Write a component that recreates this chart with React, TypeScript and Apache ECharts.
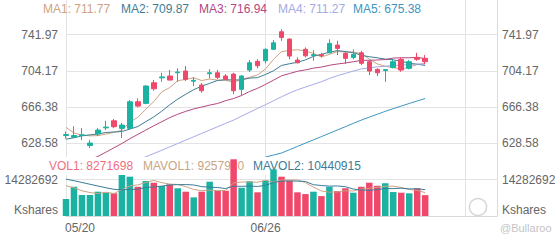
import React, { useEffect, useRef } from 'react';
import * as echarts from 'echarts';

// ---------- data ----------
const categories = [
  '05/20', '05/21', '05/22', '05/23', '05/24', '05/28', '05/29', '05/30', '05/31', '06/03',
  '06/04', '06/05', '06/06', '06/07', '06/10', '06/11', '06/12', '06/13', '06/14', '06/17',
  '06/18', '06/20', '06/21', '06/24', '06/25', '06/26', '06/27', '06/28', '07/01', '07/02',
  '07/03', '07/05', '07/08', '07/09', '07/10', '07/11', '07/12', '07/15', '07/16', '07/17',
  '07/18', '07/19', '07/22', '07/23', '07/24', '07/25',
  '07/26', '07/29', '07/30', '07/31', '08/01', '08/02', '08/05', '08/06', '08/07',
];
const dateLabels = ['05/20', '06/26'];

const opens = [
  636.8, 635.0, 636.8, 626.4, 638.4, 644.8, 652.2, 644.3, 644.3, 672.0,
  670.3, 691.8, 696.9, 698.8, 702.2, 704.0, 693.4, 689.4, 701.2, 702.2,
  698.8, 700.8, 684.9, 705.0, 714.1, 714.7, 726.6, 744.9, 737.3, 715.4,
  726.6, 720.1, 721.1, 723.0, 731.0, 722.4, 718.2, 723.0, 713.7, 705.7,
  704.5, 707.8, 716.2, 706.8, 718.2, 717.2,
];
const closes = [
  637.8, 636.8, 637.5, 629.0, 642.5, 645.6, 646.0, 647.7, 672.0, 667.5,
  688.4, 685.5, 697.9, 694.6, 703.0, 695.3, 694.3, 683.5, 702.2, 697.4,
  695.3, 683.5, 698.8, 712.6, 709.5, 726.6, 733.4, 739.0, 719.6, 712.6,
  719.9, 721.1, 720.1, 732.8, 727.6, 717.2, 721.4, 712.0, 704.0, 702.2,
  705.5, 713.7, 705.0, 713.7, 716.2, 713.7,
];
const lows = [
  633.5, 634.0, 632.1, 623.8, 636.3, 642.5, 644.6, 634.2, 643.5, 666.2,
  669.5, 683.5, 692.8, 694.1, 692.8, 693.6, 688.4, 681.4, 696.4, 695.6,
  694.6, 680.0, 679.0, 702.9, 706.8, 712.0, 725.8, 735.5, 716.2, 712.0,
  718.2, 714.7, 718.2, 722.4, 720.6, 711.3, 716.2, 710.2, 699.8, 698.8,
  692.8, 706.8, 703.2, 705.7, 714.7, 711.3,
];
const highs = [
  641.0, 646.5, 644.6, 632.1, 644.6, 652.2, 654.0, 650.0, 673.8, 675.5,
  689.4, 694.6, 702.2, 705.0, 706.8, 709.2, 697.7, 691.5, 706.0, 705.0,
  700.8, 702.2, 699.8, 715.4, 716.2, 727.6, 736.2, 747.4, 738.0, 718.2,
  728.6, 725.8, 723.0, 737.0, 735.5, 724.1, 726.6, 725.1, 715.4, 706.8,
  706.0, 716.2, 718.2, 715.4, 723.0, 720.6,
];

const ma1 = [
  645.4, 639.4, 637.3, 636.5, 636.7, 638.3, 640.1, 642.2, 650.8, 655.8,
  664.3, 672.2, 682.3, 686.8, 693.9, 695.3, 697.0, 694.1, 695.7, 694.5,
  694.5, 692.4, 695.4, 697.5, 699.9, 706.2, 716.2, 724.2, 725.6, 726.2,
  724.9, 722.4, 718.7, 721.3, 724.3, 723.8, 723.8, 722.2, 716.4, 711.4,
  709.0, 707.5, 706.1, 708.0, 710.8, 711.77,
];
const ma2 = [
  633.0, 634.5, 636.5, 637.5, 638.5, 640.0, 640.5, 641.0, 643.5, 646.2,
  651.3, 656.2, 662.2, 668.8, 674.8, 679.8, 684.6, 688.2, 691.2, 694.2,
  694.9, 694.7, 694.8, 696.6, 697.2, 700.4, 704.3, 709.8, 711.6, 713.1,
  715.6, 719.3, 721.4, 723.5, 725.3, 724.3, 723.1, 720.4, 718.9, 717.8,
  716.4, 715.7, 714.1, 712.2, 711.1, 709.87,
];
const ma3 = [
  null, null, 609.0, 612.0, 615.0, 619.5, 624.0, 628.5, 633.5, 638.0,
  642.5, 647.0, 651.2, 655.5, 659.0, 662.0, 664.5, 666.5, 668.5, 670.2,
  673.1, 675.4, 678.5, 682.7, 686.0, 690.1, 694.5, 699.0, 701.4, 703.7,
  705.2, 707.0, 708.1, 710.0, 711.3, 712.4, 713.7, 715.1, 715.2, 715.5,
  716.0, 717.5, 717.8, 717.8, 718.2, 716.94,
];
const ma4 = [
  null, null, null, null, null, null, null, null, 607.5, 611.0,
  614.7, 618.0, 621.5, 625.0, 628.5, 632.0, 635.5, 639.0, 642.5, 646.0,
  649.5, 652.9, 657.0, 661.0, 665.0, 669.0, 673.0, 677.2, 681.0, 684.5,
  687.3, 690.1, 692.8, 696.3, 699.1, 701.5, 704.0, 706.2, 707.2, 708.4,
  709.0, 709.9, 710.1, 710.8, 711.2, 711.27,
];
const ma5 = [
  null, null, null, null, null, null, null, null, null, null,
  null, null, null, null, null, null, null, null, null, null,
  null, null, null, 608.0, 611.0, 614.4, 616.5, 618.6, 622.0, 625.5,
  628.9, 632.3, 635.7, 639.1, 642.6, 646.0, 649.5, 652.9, 656.0, 659.0,
  662.0, 664.8, 667.5, 670.2, 672.8, 675.38,
];

const volumes = [
  6740000, 11600000, 8330000, 8330000, 9640000, 9240000, 9000000, 16270000, 15600000, 11600000,
  13900000, 13200000, 11900000, 12600000, 11000000, 9640000, 7400000, 9640000, 13600000, 10000000,
  10000000, 22500000, 11200000, 13800000, 9400000, 14000000, 18500000, 15600000, 14000000, 9400000,
  8700000, 9640000, 7900000, 11600000, 9900000, 11000000, 9240000, 11600000, 13200000, 12000000,
  13000000, 9500000, 9240000, 9000000, 11000000, 8271698,
];
const mavol1 = [
  12000000, 11200000, 10000000, 9300000, 8930000, 9430000, 8910000, 10500000, 11950000, 12340000,
  13270000, 14110000, 13240000, 12640000, 12520000, 11670000, 10510000, 10060000, 10260000, 10060000,
  10130000, 13150000, 13460000, 13500000, 13380000, 14180000, 13380000, 14260000, 14300000, 14300000,
  13240000, 11470000, 9930000, 9450000, 9550000, 10010000, 9930000, 10670000, 10990000, 11410000,
  11810000, 11820000, 11350000, 10510000, 10210000, 9257920,
];
const mavol2 = [
  14600000, 14000000, 13300000, 12600000, 11900000, 11200000, 10600000, 10400000, 10500000, 10640000,
  11350000, 11510000, 11870000, 12300000, 12430000, 12470000, 12310000, 11650000, 11450000, 11290000,
  10900000, 11830000, 11760000, 11880000, 11720000, 12150000, 13260000, 13860000, 13900000, 13840000,
  13710000, 12420000, 12090000, 11870000, 11920000, 11620000, 10700000, 10300000, 10220000, 10480000,
  10910000, 10870000, 11010000, 10750000, 10810000, 10440915,
];

const maNames = ['MA1', 'MA2', 'MA3', 'MA4', 'MA5'];
const maLast = ['711.77', '709.87', '716.94', '711.27', '675.38'];
const volNames = ['VOL1', 'MAVOL1', 'MAVOL2'];
const volLast = ['8271698', '9257920', '10440915'];

const priceTickLabels = ['741.97', '704.17', '666.38', '628.58'];
const volumeTickLabels = ['14282692'];
const volumeUnit = 'Kshares';

// ---------- styling ----------
const FONT = 'Liberation Sans';
const UP = '#1bb2a2';
const DOWN = '#f0486a';
const GRID = '#e3e3e3';
const LABEL = '#666666';
const maColors = ['#cfa282', '#3f7c93', '#b3477e', '#a5aae6', '#3d95bf'];
const volColors = ['#f0707f', '#c9a585', '#3d7b99'];

function buildOption(): any {
  const candleData = opens.map((o, i) => [o, closes[i], lows[i], highs[i]]);
  const volData = volumes.map((v, i) => ({
    value: v,
    itemStyle: { color: closes[i] >= opens[i] ? UP : DOWN },
  }));

  const priceFmt = (v: number) => {
    const hit = priceTickLabels.find((s) => Math.abs(parseFloat(s) - v) < 0.05);
    return hit ?? '';
  };
  const volFmt = (v: number) => {
    if (v === 0) return '{u|' + volumeUnit + '}';
    const hit = volumeTickLabels.find((s) => Math.abs(parseFloat(s) - v) < 1);
    return hit ?? '';
  };
  const splitAt = (i: number) => i % 25 === 0;

  const labelBase = { color: LABEL, fontSize: 12, fontFamily: FONT };
  const volRich = { u: { ...labelBase, padding: [0, 0, 12, 0] } };

  const priceLegendX = [43, 121, 199, 278, 353];
  const volLegendX = [49, 143, 253];

  const graphics: any[] = [];
  maNames.forEach((n, i) => {
    graphics.push({
      type: 'text',
      x: priceLegendX[i],
      y: 9,
      z: 3,
      style: {
        text: n + ': ' + maLast[i],
        fill: maColors[i],
        font: '12px "' + FONT + '"',
        textVerticalAlign: 'middle',
        verticalAlign: 'middle',
      },
    });
  });
  volNames.forEach((n, i) => {
    graphics.push({
      type: 'text',
      x: volLegendX[i] - 5,
      y: 166,
      z: 3,
      style: {
        text: n + ': ' + volLast[i],
        fill: volColors[i],
        font: '12px "' + FONT + '"',
        textVerticalAlign: 'middle',
        verticalAlign: 'middle',
        backgroundColor: '#ffffff',
        padding: [3, 5, 3, 5],
      },
    });
  });
  graphics.push({
    type: 'circle',
    z: 1,
    shape: { cx: 478, cy: 207, r: 8.5 },
    style: { fill: 'none', stroke: '#d6d6d6', lineWidth: 1.5 },
  });
  graphics.push({
    type: 'text',
    x: 500,
    y: 228,
    z: 1,
    style: {
      text: '@Bullaroo',
      fill: '#c4c4c4',
      font: '11px "' + FONT + '"',
      textVerticalAlign: 'middle',
      verticalAlign: 'middle',
    },
  });

  const maSeries = [ma1, ma2, ma3, ma4, ma5].map((d, i) => ({
    name: maNames[i],
    type: 'line',
    xAxisIndex: 0,
    yAxisIndex: 0,
    data: d,
    symbol: 'none',
    z: 2,
    lineStyle: { width: 1, color: maColors[i] },
    connectNulls: false,
  }));

  return {
    animation: false,
    backgroundColor: '#ffffff',
    textStyle: { fontFamily: FONT },
    grid: [
      { left: 66, right: 63, top: 0, bottom: 24 },
      { left: 66, right: 63, top: 144, bottom: 24 },
    ],
    xAxis: [
      {
        type: 'category',
        gridIndex: 0,
        data: categories,
        boundaryGap: false,
        axisLine: { show: false },
        axisTick: { show: false },
        axisLabel: { show: false },
        splitLine: { show: true, interval: splitAt, lineStyle: { color: GRID, width: 1 } },
      },
      {
        type: 'category',
        gridIndex: 1,
        data: categories,
        boundaryGap: false,
        axisLine: { show: true, lineStyle: { color: '#d9d9d9' } },
        axisTick: { show: false },
        splitLine: { show: false },
        axisLabel: {
          ...labelBase,
          margin: 6,
          interval: (i: number) => dateLabels.includes(categories[i]) && i < 46,
          formatter: (v: string, i: number) => (i === 0 ? '{l|' + v + '}' : '{n|' + v + '}'),
          rich: {
            l: { ...labelBase, padding: [0, 0, 0, 28] },
            n: { ...labelBase },
          },
        },
      },
    ],
    yAxis: [
      {
        type: 'value',
        gridIndex: 0,
        position: 'left',
        min: 552.99,
        max: 778,
        interval: 37.796,
        axisLine: { show: false },
        axisTick: { show: false },
        splitLine: { show: true, showMaxLine: false, lineStyle: { color: GRID, width: 1 } },
        axisLabel: { ...labelBase, margin: 8, formatter: priceFmt, showMaxLabel: false },
      },
      {
        type: 'value',
        gridIndex: 0,
        position: 'right',
        min: 552.99,
        max: 778,
        interval: 37.796,
        axisLine: { show: true, lineStyle: { color: '#dcdcdc' } },
        axisTick: { show: false },
        splitLine: { show: false },
        axisLabel: { ...labelBase, margin: 5, formatter: priceFmt, showMaxLabel: false },
      },
      {
        type: 'value',
        gridIndex: 1,
        position: 'left',
        min: 0,
        max: 28565384,
        interval: 14282692,
        axisLine: { show: false },
        axisTick: { show: false },
        splitLine: { show: false },
        axisLabel: { ...labelBase, margin: 8, formatter: volFmt, rich: volRich },
      },
      {
        type: 'value',
        gridIndex: 1,
        position: 'right',
        min: 0,
        max: 28565384,
        interval: 14282692,
        axisLine: { show: false },
        axisTick: { show: false },
        splitLine: { show: false },
        axisLabel: { ...labelBase, margin: 5, formatter: volFmt, rich: volRich },
      },
    ],
    graphic: graphics,
    series: [
      {
        name: 'K',
        type: 'candlestick',
        xAxisIndex: 0,
        yAxisIndex: 0,
        data: candleData,
        barWidth: 5,
        clip: false,
        z: 2,
        itemStyle: {
          color: UP,
          color0: DOWN,
          borderColor: UP,
          borderColor0: DOWN,
          borderWidth: 1,
        },
      },
      ...maSeries,
      {
        name: 'VOL',
        type: 'bar',
        xAxisIndex: 1,
        yAxisIndex: 2,
        data: volData,
        barWidth: 6.5,
        clip: false,
        z: 4,
      },
      {
        name: 'MAVOL1',
        type: 'line',
        xAxisIndex: 1,
        yAxisIndex: 2,
        data: mavol1,
        symbol: 'none',
        z: 5,
        lineStyle: { width: 1, color: volColors[1] },
      },
      {
        name: 'MAVOL2',
        type: 'line',
        xAxisIndex: 1,
        yAxisIndex: 2,
        data: mavol2,
        symbol: 'none',
        z: 5,
        lineStyle: { width: 1, color: volColors[2] },
      },
    ],
  };
}

export default function App() {
  const ref = useRef<HTMLDivElement>(null);
  useEffect(() => {
    document.body.style.margin = '0';
    const chart = echarts.init(ref.current as HTMLDivElement, null, { renderer: 'svg' });
    chart.setOption(buildOption());
    return () => {
      chart.dispose();
    };
  }, []);
  return <div ref={ref} style={{ width: 560, height: 240 }} />;
}
